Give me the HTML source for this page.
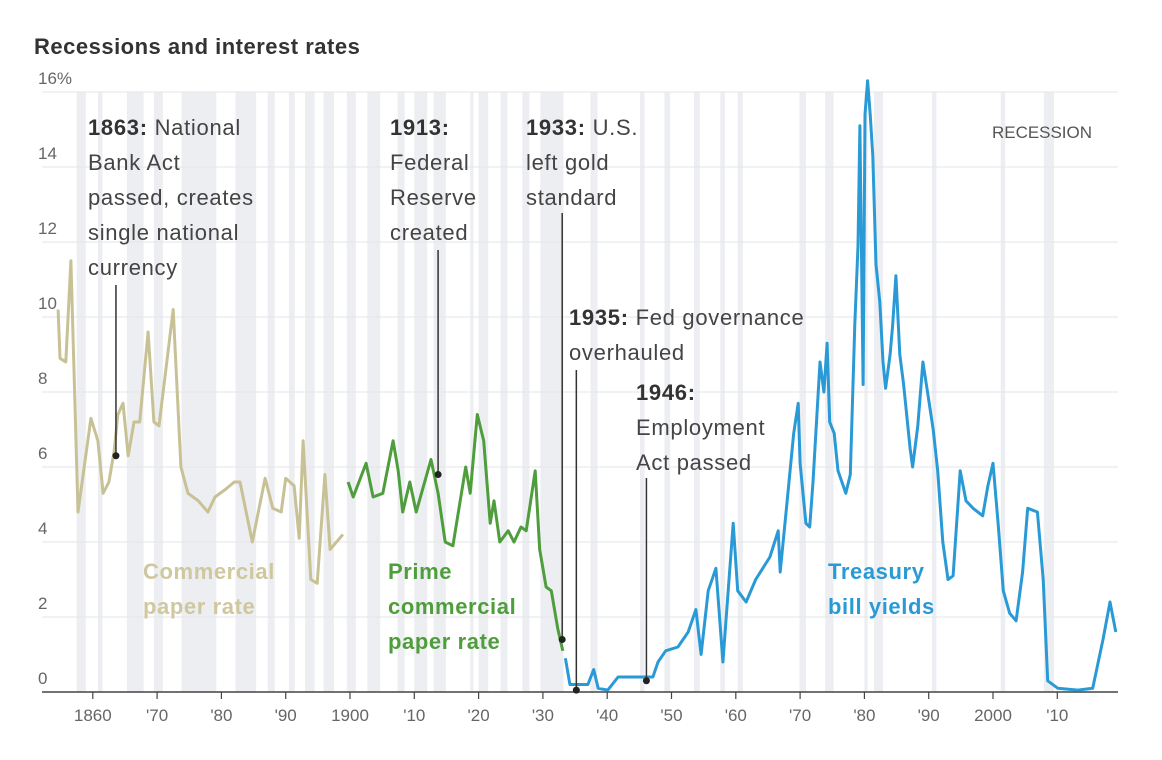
<!DOCTYPE html>
<html><head><meta charset="utf-8"><style>
html,body{margin:0;padding:0;background:#fff;width:1162px;height:760px;overflow:hidden}
svg{display:block;font-family:"Liberation Sans",sans-serif}
</style></head><body>
<svg id="chart" width="1162" height="760">
<text x="34" y="54" font-size="22" font-weight="bold" fill="#333" letter-spacing="0.5">Recessions and interest rates</text>
<g id="bands"></g><g id="grid"></g><g id="axis"></g><g id="lines"></g>
<text x="992" y="138" font-size="17" fill="#555" textLength="100">RECESSION</text>
<g font-size="22" fill="#444" letter-spacing="0.7">
<text x="88" y="135"><tspan font-weight="bold" fill="#333">1863:</tspan> National<tspan x="88" dy="35">Bank Act</tspan><tspan x="88" dy="35">passed, creates</tspan><tspan x="88" dy="35">single national</tspan><tspan x="88" dy="35">currency</tspan></text>
<text x="390" y="135"><tspan font-weight="bold" fill="#333">1913:</tspan><tspan x="390" dy="35">Federal</tspan><tspan x="390" dy="35">Reserve</tspan><tspan x="390" dy="35">created</tspan></text>
<text x="526" y="135"><tspan font-weight="bold" fill="#333">1933:</tspan> U.S.<tspan x="526" dy="35">left gold</tspan><tspan x="526" dy="35">standard</tspan></text>
<text x="569" y="325"><tspan font-weight="bold" fill="#333">1935:</tspan> Fed governance<tspan x="569" dy="35">overhauled</tspan></text>
<text x="636" y="400"><tspan font-weight="bold" fill="#333">1946:</tspan><tspan x="636" dy="35">Employment</tspan><tspan x="636" dy="35">Act passed</tspan></text>
</g>
<g font-size="22" font-weight="bold" letter-spacing="0.6">
<text x="143" y="579" fill="#cfc79e">Commercial<tspan x="143" dy="35">paper rate</tspan></text>
<text x="388" y="579" fill="#4f9d3c">Prime<tspan x="388" dy="35">commercial</tspan><tspan x="388" dy="35">paper rate</tspan></text>
<text x="828" y="579" fill="#2a9ad6">Treasury<tspan x="828" dy="35">bill yields</tspan></text>
</g>
<g id="callouts"></g>
</svg>
<script>
const recessionStarts=[1857.5,1860.8,1865.3,1869.5,1873.8,1882.2,1887.2,1890.5,1893.0,1895.9,1899.5,1902.7,1907.4,1910.0,1913.0,1918.7,1920.0,1923.4,1926.8,1929.6,1937.4,1945.1,1948.9,1953.5,1957.6,1960.3,1969.9,1973.9,1980.0,1981.5,1990.5,2001.2,2007.9];
const recessionEnds=[1858.9,1861.5,1867.9,1870.9,1879.2,1885.4,1888.3,1891.4,1894.5,1897.5,1900.9,1904.7,1908.5,1912.0,1914.9,1919.2,1921.5,1924.5,1927.9,1933.2,1938.5,1945.8,1949.8,1954.4,1958.3,1961.1,1970.9,1975.2,1980.5,1982.9,1991.2,2001.9,2009.5];
const yTicks=[0,2,4,6,8,10,12,14,16];
const xTickYears=[1860,1870,1880,1890,1900,1910,1920,1930,1940,1950,1960,1970,1980,1990,2000,2010];
const xTickLabels=["1860","'70","'80","'90","1900","'10","'20","'30","'40","'50","'60","'70","'80","'90","2000","'10"];
const cpYears=[1854.6,1854.9,1855.8,1856.6,1857.7,1859.7,1860.8,1861.6,1862.5,1863.3,1863.9,1864.7,1865.5,1866.4,1867.3,1868.6,1869.5,1870.3,1872.5,1873.7,1874.8,1876.4,1877.9,1879.0,1880.6,1882.0,1882.9,1884.8,1886.8,1888.0,1889.3,1890.0,1891.3,1892.1,1892.7,1893.9,1894.9,1896.1,1896.9,1898.9];
const cpRates=[10.2,8.9,8.8,11.5,4.8,7.3,6.7,5.3,5.6,6.4,7.4,7.7,6.3,7.2,7.2,9.6,7.2,7.1,10.2,6.0,5.3,5.1,4.8,5.2,5.4,5.6,5.6,4.0,5.7,4.9,4.8,5.7,5.5,4.1,6.7,3.0,2.9,5.8,3.8,4.2];
const primeYears=[1899.7,1900.5,1902.5,1903.6,1905.1,1906.7,1907.5,1908.2,1909.3,1910.3,1912.6,1913.7,1914.8,1916.0,1918.0,1918.7,1919.8,1920.8,1921.8,1922.4,1923.3,1924.6,1925.5,1926.6,1927.4,1928.8,1929.5,1930.5,1931.3,1932.3,1933.1];
const primeRates=[5.6,5.2,6.1,5.2,5.3,6.7,5.9,4.8,5.6,4.8,6.2,5.3,4.0,3.9,6.0,5.3,7.4,6.7,4.5,5.1,4.0,4.3,4.0,4.4,4.3,5.9,3.8,2.8,2.7,1.7,1.1];
const tbYears=[1933.5,1934.2,1937.0,1937.9,1938.6,1940.1,1941.7,1947.1,1947.9,1949.1,1951.0,1952.6,1953.8,1954.6,1955.7,1956.9,1958.0,1959.6,1960.3,1961.6,1963.1,1965.3,1966.6,1966.9,1968.1,1969.0,1969.7,1970.0,1970.9,1971.5,1972.0,1973.1,1973.7,1974.2,1974.6,1975.3,1975.9,1977.1,1977.8,1978.5,1979.0,1979.3,1979.8,1980.1,1980.5,1980.9,1981.3,1981.8,1982.4,1982.9,1983.3,1984.0,1984.4,1984.9,1985.5,1986.1,1987.1,1987.5,1988.3,1989.1,1989.9,1990.7,1991.4,1992.2,1993.0,1993.8,1994.9,1995.8,1996.9,1998.4,1999.2,2000.0,2000.8,2001.6,2002.6,2003.6,2004.6,2005.4,2006.9,2007.8,2008.5,2010.1,2013.2,2015.5,2017.1,2018.2,2019.1];
const tbRates=[0.9,0.2,0.2,0.6,0.1,0.05,0.4,0.4,0.8,1.1,1.2,1.6,2.2,1.0,2.7,3.3,0.8,4.5,2.7,2.4,3.0,3.6,4.3,3.2,5.3,6.9,7.7,6.1,4.5,4.4,5.6,8.8,8.0,9.3,7.2,6.9,5.9,5.3,5.8,9.8,11.9,15.1,8.2,15.4,16.3,15.4,14.3,11.4,10.4,8.8,8.1,9.0,9.8,11.1,9.0,8.2,6.5,6.0,7.1,8.8,7.9,7.0,5.9,4.0,3.0,3.1,5.9,5.1,4.9,4.7,5.5,6.1,4.5,2.7,2.1,1.9,3.2,4.9,4.8,3.0,0.3,0.1,0.05,0.1,1.4,2.4,1.6];
const calloutYears=[1863.6,1913.7,1933.0,1935.2,1946.1];
const calloutRates=[6.3,5.8,1.4,0.05,0.3];
const calloutTops=[285,250,213,370,478];

const NS='http://www.w3.org/2000/svg';
const X0=62,X1=1118;
const xs=yr=>350+(yr-1900)*6.43;
const ys=v=>692-v*37.5;
function mk(tag,attrs,parent){const e=document.createElementNS(NS,tag);for(const k in attrs)e.setAttribute(k,attrs[k]);parent.appendChild(e);return e;}
const bands=document.getElementById('bands');
for(let i=0;i<recessionStarts.length;i++){
  const r=mk('rect',{x:xs(recessionStarts[i]),y:ys(16),width:xs(recessionEnds[i])-xs(recessionStarts[i]),height:ys(0)-ys(16),fill:'#eceef1'},bands);
  
  
}
const grid=document.getElementById('grid');
yTicks.forEach(t=>{
  const l=mk('line',{x1:X0-20,x2:X1,y1:ys(t),y2:ys(t),stroke:t===0?'#444':'#e3e5e8','stroke-width':t===0?1.5:1},grid);
  
  
  const tx=mk('text',{x:38,y:ys(t)-8,'font-size':17,fill:'#666'},grid);
  tx.textContent=t===16?'16%':String(t);
  
  
});
const axis=document.getElementById('axis');
xTickYears.forEach((yr,i)=>{
  const l=mk('line',{x1:xs(yr),x2:xs(yr),y1:ys(0),y2:ys(0)+7,stroke:'#444','stroke-width':1.2},axis);
  
  
  const tx=mk('text',{x:xs(yr),y:ys(0)+29,'font-size':17,fill:'#666','text-anchor':'middle'},axis);
  tx.textContent=xTickLabels[i];
  
  
});
const lines=document.getElementById('lines');
function series(yrs,vals,color,name){
  const d=yrs.map((y,i)=>(i?'L':'M')+xs(y).toFixed(1)+','+ys(vals[i]).toFixed(1)).join('');
  const p=mk('path',{d:d,fill:'none',stroke:color,'stroke-width':3,'stroke-linejoin':'round'},lines);
  
  
}
series(cpYears,cpRates,'#c9c196','commercial-paper-line');
series(primeYears,primeRates,'#4f9d3c','prime-paper-line');
series(tbYears,tbRates,'#2a9ad6','treasury-bill-line');
const co=document.getElementById('callouts');
calloutYears.forEach((yr,i)=>{
  const l=mk('line',{x1:xs(yr),x2:xs(yr),y1:calloutTops[i],y2:ys(calloutRates[i]),stroke:'#333','stroke-width':1.5},co);
  
  
  const c=mk('circle',{cx:xs(yr),cy:ys(calloutRates[i]),r:3.5,fill:'#222'},co);
  
  
});
</script>
</body></html>
